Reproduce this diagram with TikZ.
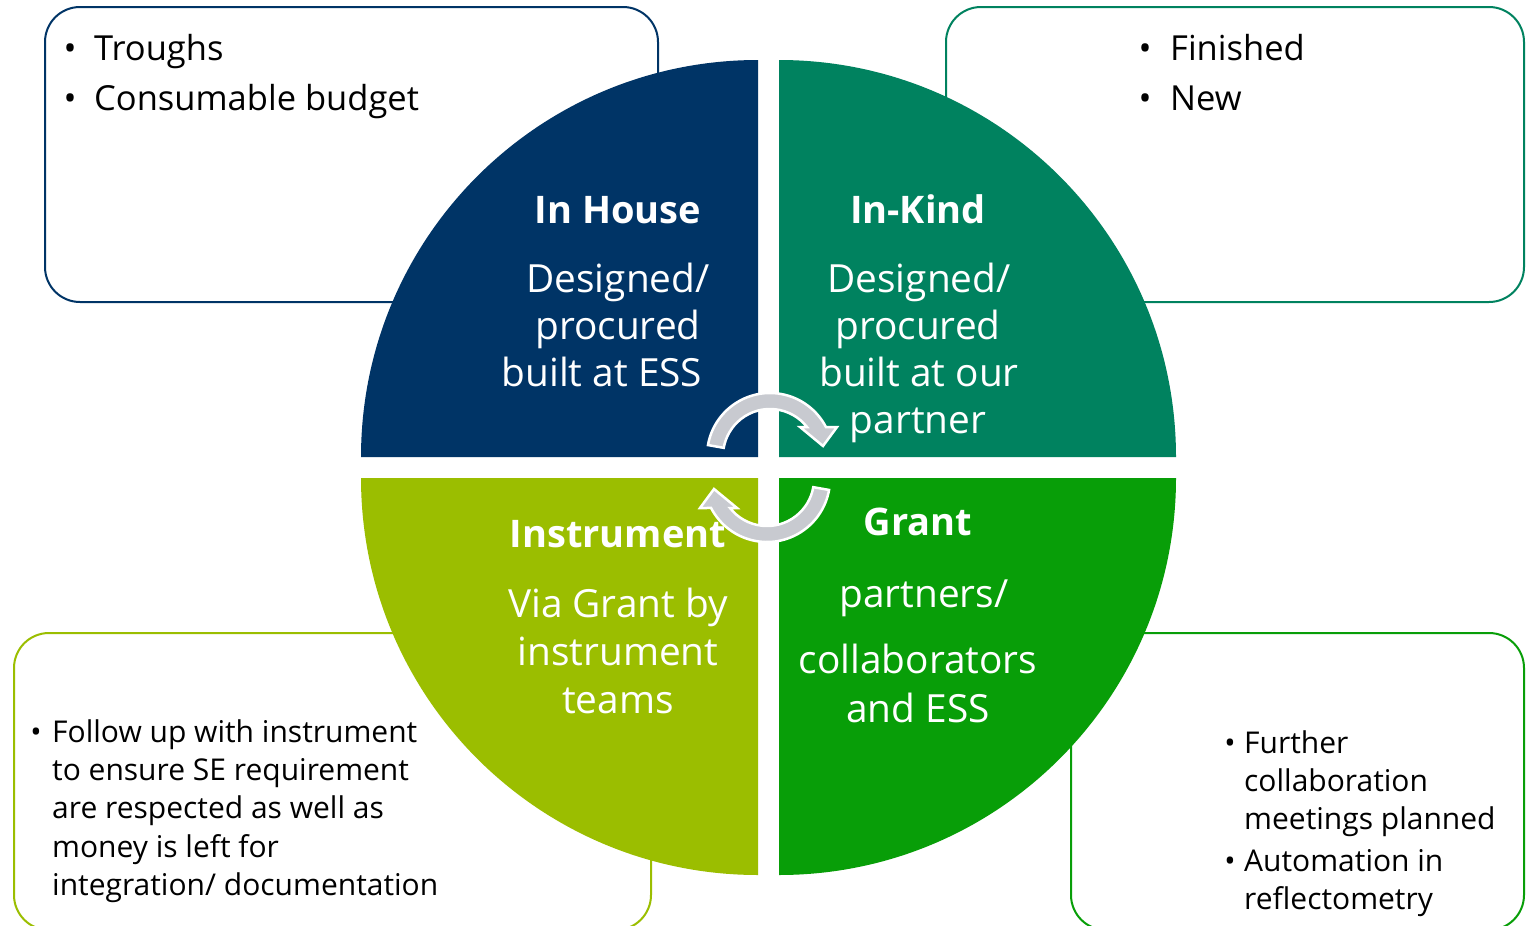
\documentclass[tikz,border=0pt]{standalone}
\usepackage{fontspec}
\setmainfont{Open Sans}
\definecolor{cHouse}{RGB}{0,52,102}
\definecolor{cKind}{RGB}{0,130,95}
\definecolor{cInstr}{RGB}{155,190,0}
\definecolor{cGrant}{RGB}{8,158,8}
\definecolor{cArrow}{RGB}{200,202,208}
\begin{document}
\begin{tikzpicture}[x=1pt,y=-1pt,
  infobox/.style={line width=2pt, rounded corners=35pt, fill=white},
  qtitle/.style={text=white, anchor=base, inner sep=0pt, font=\fontsize{38}{46}\selectfont\bfseries},
  qtext/.style={text=white, anchor=base, inner sep=0pt, font=\fontsize{38.8}{46}\selectfont},
  btext/.style={text=black, anchor=base west, inner sep=0pt, font=\fontsize{34.5}{40}\selectfont},
  bbul/.style={text=black, anchor=base, inner sep=0pt, font=\fontsize{34.5}{40}\selectfont},
  stext/.style={text=black, anchor=base west, inner sep=0pt, font=\fontsize{30}{36}\selectfont},
  sbul/.style={text=black, anchor=base, inner sep=0pt, font=\fontsize{30}{36}\selectfont},
  cyclearrow/.style={fill=cArrow, draw=white, line width=2.5pt, line join=miter}
]
\useasboundingbox (0,0) rectangle (1526,926);
\clip (0,0) rectangle (1526,926);
\fill[white] (0,0) rectangle (1526,926);

% side boxes
\draw[infobox, draw=cHouse] (45,7) rectangle (658,302);
\draw[infobox, draw=cKind] (946,7) rectangle (1524,302);
\draw[infobox, draw=cInstr] (14,633) rectangle (651,930);
\draw[infobox, draw=cGrant] (1071,633) rectangle (1524,930);

% quadrants
\fill[cHouse] (758,457) -- (361,457) arc[start angle=180, end angle=270, radius=397] -- cycle;
\fill[cKind] (779,457) -- (779,60) arc[start angle=270, end angle=360, radius=397] -- cycle;
\fill[cGrant] (779,478) -- (1176,478) arc[start angle=0, end angle=90, radius=397] -- cycle;
\fill[cInstr] (758,478) -- (758,875) arc[start angle=90, end angle=180, radius=397] -- cycle;

% circular arrows
\begin{scope}[shift={(770,456)}, yscale=-1]
  \filldraw[cyclearrow] (170:63) arc[start angle=170, end angle=27.4, radius=63]
    -- (67,29) -- (53,10) -- (30,29) -- (38.1:47)
    arc[start angle=38.1, end angle=170, radius=47] -- cycle;
\end{scope}
\begin{scope}[shift={(767,479)}, xscale=-1]
  \filldraw[cyclearrow] (170:63) arc[start angle=170, end angle=27.4, radius=63]
    -- (67,29) -- (53,10) -- (30,29) -- (38.1:47)
    arc[start angle=38.1, end angle=170, radius=47] -- cycle;
\end{scope}

% quadrant texts
\node[qtitle] (t1) at (618,223) {In House};
\node[qtext] (t1a) at (618,292) {Designed/};
\node[qtext] (t1b) at (618,339) {procured};
\node[qtext] (t1c) at (602,386) {built at ESS};

\node[qtitle] (t2) at (918,223) {In-Kind};
\node[qtext] (t2a) at (919,292) {Designed/};
\node[qtext] (t2b) at (918,339) {procured};
\node[qtext] (t2c) at (919,386) {built at our};
\node[qtext] (t2d) at (918,433) {partner};

\node[qtitle] (t3) at (618,547) {Instrument};
\node[qtext] (t3a) at (618,617) {Via Grant by};
\node[qtext] (t3b) at (618,665) {instrument};
\node[qtext] (t3c) at (618,713) {teams};

\node[qtitle] (t4) at (918,535) {Grant};
\node[qtext] (t4a) at (924,607) {partners/};
\node[qtext] (t4b) at (918,673) {collaborators};
\node[qtext] (t4c) at (918,722) {and ESS};

% top-left box text
\node[bbul] (b1) at (70,60) {•};
\node[btext] (l1) at (94,60) {Troughs};
\node[bbul] (b2) at (70,110) {•};
\node[btext] (l2) at (94,110) {Consumable budget};

% top-right box text
\node[bbul] (b3) at (1145,60) {•};
\node[btext] (r1) at (1170,60) {Finished};
\node[bbul] (b4) at (1145,110) {•};
\node[btext] (r2) at (1170,110) {New};

% bottom-left box text
\node[sbul] (b5) at (36,742) {•};
\node[stext] (s1) at (52,742) {Follow up with instrument};
\node[stext] (s2) at (52,780) {to ensure SE requirement};
\node[stext] (s3) at (52,818) {are respected as well as};
\node[stext] (s4) at (52,857) {money is left for};
\node[stext] (s5) at (52,895) {integration/ documentation};

% bottom-right box text
\node[sbul] (b6) at (1230,753) {•};
\node[stext] (g1) at (1244,753) {Further};
\node[stext] (g2) at (1244,791) {collaboration};
\node[stext] (g3) at (1244,829) {meetings planned};
\node[sbul] (b7) at (1230,871) {•};
\node[stext] (g4) at (1244,871) {Automation in};
\node[stext] (g5) at (1244,909) {reflectometry};
\end{tikzpicture}
\end{document}
